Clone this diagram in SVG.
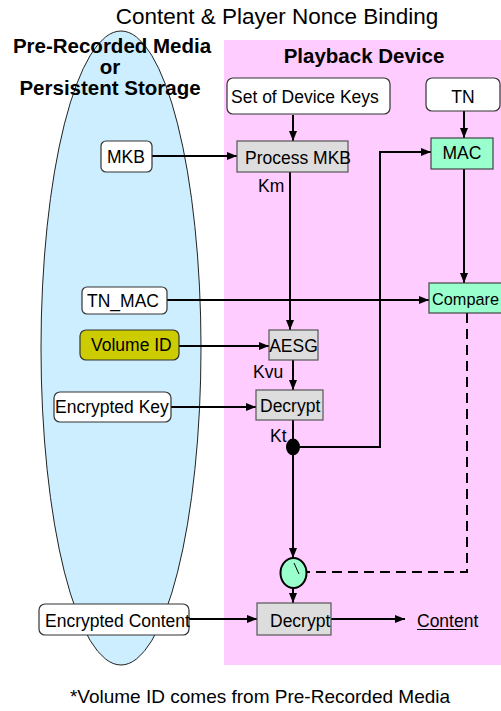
<svg xmlns="http://www.w3.org/2000/svg" width="501" height="711" viewBox="0 0 501 711">
<defs>
<marker id="arr" markerUnits="userSpaceOnUse" markerWidth="10" markerHeight="8" refX="10" refY="4" orient="auto">
<path d="M0,0 L10,4 L0,8 z" fill="#000"/>
</marker>
<style>
.t{font-family:"Liberation Sans",Arial,sans-serif;fill:#000}
.lbl{font-family:"Liberation Sans",Arial,sans-serif;font-size:17.5px;fill:#000}
.hd{font-family:"Liberation Sans",Arial,sans-serif;font-size:20.5px;font-weight:bold;fill:#000}
.wbox{fill:#fff;stroke:#333;stroke-width:1.2}
.gbox{fill:#dddddd;stroke:#555;stroke-width:1.2}
.mbox{fill:#99ffcc;stroke:#444;stroke-width:1.2}
.c{fill:none;stroke:#000;stroke-width:2}
</style>
</defs>
<rect x="224" y="40" width="277" height="625" fill="#ffccff"/>
<ellipse cx="121" cy="348" rx="80" ry="317" fill="#cceeff" stroke="#222" stroke-width="1"/>
<text class="t" x="277" y="24" font-size="22.5" text-anchor="middle">Content &amp; Player Nonce Binding</text>
<g id="media-header">
<text class="hd" x="112" y="53" text-anchor="middle">Pre-Recorded Media</text>
<text class="hd" x="110" y="74" text-anchor="middle">or</text>
<text class="hd" x="110" y="95" text-anchor="middle">Persistent Storage</text>
</g>
<text class="hd" x="364" y="63" text-anchor="middle">Playback Device</text>
<g id="connectors">
<path class="c" d="M293,115 V141" marker-end="url(#arr)"/>
<path class="c" d="M152,156 H237" marker-end="url(#arr)"/>
<path class="c" d="M290,172 V330" marker-end="url(#arr)"/>
<path class="c" d="M464,111 V138" marker-end="url(#arr)"/>
<path class="c" d="M464,169 V283" marker-end="url(#arr)"/>
<path class="c" d="M167,300 H429" marker-end="url(#arr)"/>
<path class="c" d="M179,346 H269" marker-end="url(#arr)"/>
<path class="c" d="M293,360 V390" marker-end="url(#arr)"/>
<path class="c" d="M171,407 H256" marker-end="url(#arr)"/>
<path class="c" d="M293,420 V440"/>
<path class="c" d="M293,447 H380 V152 H431" marker-end="url(#arr)"/>
<path class="c" d="M293,455 V558" marker-end="url(#arr)"/>
<path class="c" d="M467,313 V572 H307" stroke-dasharray="10,6"/>
<path class="c" d="M293,588 V603" marker-end="url(#arr)"/>
<path class="c" d="M189,619 H257" marker-end="url(#arr)"/>
<path class="c" d="M331,619 H405" marker-end="url(#arr)"/>
</g>
<g id="device-keys"><rect class="wbox" x="227" y="78" width="163" height="36" rx="6"/><text class="lbl" x="231" y="103">Set of Device Keys</text></g>
<g id="tn"><rect class="wbox" x="426" y="78" width="74" height="33" rx="6"/><text class="lbl" x="463" y="103" text-anchor="middle">TN</text></g>
<g id="mkb"><rect class="wbox" x="101" y="141" width="51" height="31" rx="5"/><text class="lbl" x="126" y="163" text-anchor="middle">MKB</text></g>
<g id="process-mkb"><rect class="gbox" x="237" y="141" width="111" height="31"/><text class="lbl" x="245" y="164">Process MKB</text></g>
<text class="lbl" x="258" y="192">Km</text>
<g id="mac"><rect class="mbox" x="431" y="138" width="62" height="31"/><text class="lbl" x="462" y="159" text-anchor="middle">MAC</text></g>
<g id="tn-mac"><rect class="wbox" x="82" y="287" width="85" height="27" rx="5"/><text class="lbl" x="87" y="307">TN_MAC</text></g>
<g id="compare"><rect class="mbox" x="429" y="283" width="80" height="30"/><text class="lbl" x="432" y="305" style="font-size:16.3px">Compare</text></g>
<g id="volume-id"><rect x="80" y="330" width="99" height="30" rx="6" fill="#cccc00" stroke="#333" stroke-width="1.2"/><text class="lbl" x="91" y="351">Volume ID</text></g>
<g id="aesg"><rect class="gbox" x="269" y="330" width="49" height="30"/><text class="lbl" x="293.5" y="352" text-anchor="middle">AESG</text></g>
<text class="lbl" x="253" y="378">Kvu</text>
<g id="encrypted-key"><rect class="wbox" x="54" y="392" width="117" height="30" rx="6"/><text class="lbl" x="55" y="413">Encrypted Key</text></g>
<g id="decrypt1"><rect class="gbox" x="256" y="390" width="67" height="30"/><text class="lbl" x="260" y="412">Decrypt</text></g>
<text class="lbl" x="270" y="442">Kt</text>
<g id="junction"><ellipse cx="293" cy="447" rx="7" ry="8.5" fill="#000"/></g>
<g id="switch"><ellipse cx="293.5" cy="573" rx="13" ry="15" fill="#99ffcc" stroke="#000" stroke-width="2"/><line x1="294" y1="563" x2="299" y2="574" stroke="#000" stroke-width="1"/></g>
<g id="encrypted-content"><rect class="wbox" x="39" y="604" width="150" height="31" rx="6"/><text class="lbl" x="45" y="627">Encrypted Content</text></g>
<g id="decrypt2"><rect class="gbox" x="257" y="603" width="74" height="32"/><text class="lbl" x="270" y="627">Decrypt</text></g>
<g id="content"><text class="lbl" x="417" y="627">Content</text><line x1="417" y1="629.5" x2="466" y2="629.5" stroke="#000" stroke-width="1.2"/></g>
<text class="t" x="260" y="703" font-size="19" text-anchor="middle">*Volume ID comes from Pre-Recorded Media</text>
</svg>
